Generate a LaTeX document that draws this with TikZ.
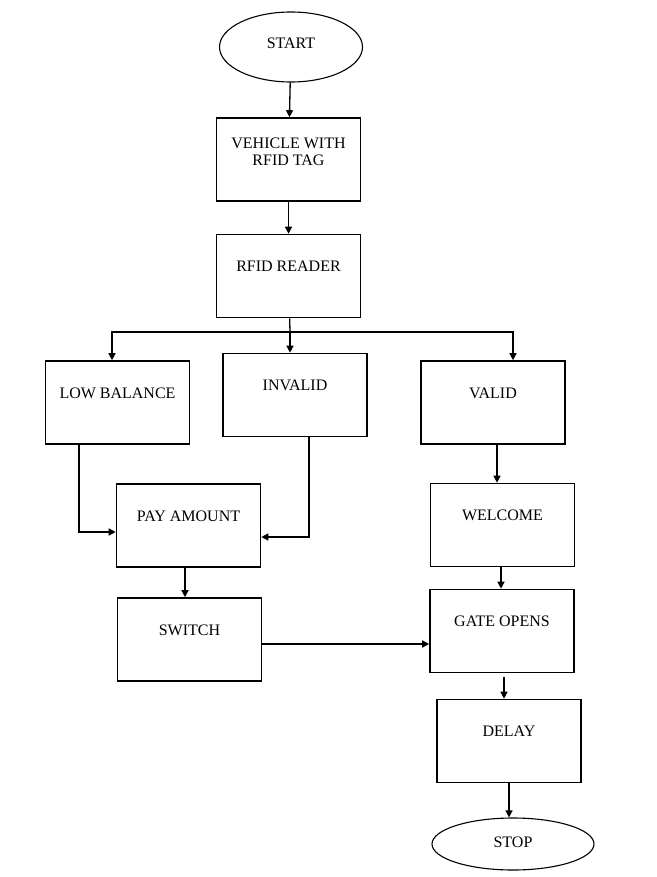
\documentclass[tikz,border=0pt]{standalone}
\usepackage{fontspec}
\setmainfont{Liberation Serif}
\usetikzlibrary{arrows.meta,shapes.geometric}

\begin{document}
\begin{tikzpicture}[x=1pt,y=-1pt,
    stepbox/.style={draw,line width=1.6pt,rectangle,inner sep=0pt,
        minimum width=144pt,minimum height=83pt,text height=37pt,text depth=46pt,
        font=\fontsize{16}{17}\selectfont},
    endpoint/.style={draw,line width=1.1pt,ellipse,inner sep=0pt,
        font=\fontsize{16}{17}\selectfont},
    arr/.style={line width=1.3pt,-{Triangle[length=7pt,width=7pt]}}]
\useasboundingbox (0,0) rectangle (656,877);

% the terminals
\node (start) at (291,47) [endpoint,minimum width=143pt,minimum height=70pt,
    text height=8pt,text depth=5pt] {START};
\node (stop) at (513,844) [endpoint,minimum width=162pt,minimum height=52pt,
    text height=9pt,text depth=2pt] {STOP};

% the boxes
\node (vehicle) at (288.5,159.5) [stepbox,align=center,text height=48pt,text depth=35pt]
    {VEHICLE WITH\\RFID TAG};
\node (reader) at (288.5,276) [stepbox] {RFID READER};
\node (low) at (117.5,402.5) [stepbox] {LOW BALANCE};
\node (invalid) at (295,395) [stepbox] {INVALID};
\node (valid) at (493,402.5) [stepbox] {VALID};
\node (pay) at (188.5,525.5) [stepbox] {PAY AMOUNT};
\node (welcome) at (502.5,525) [stepbox] {WELCOME};
\node (switch) at (189.5,639.5) [stepbox] {SWITCH};
\node (gate) at (502,631) [stepbox] {GATE OPENS};
\node (delay) at (509,741) [stepbox] {DELAY};

% the split under the reader
\coordinate (split) at (290,332);

% the flow
\path (start) edge[arr] (vehicle)
      (vehicle) edge[arr] (reader);
\draw[line width=1.3pt] (reader) -- (split);
\draw[arr] (split) -| ([xshift=-5.5pt]low.north);
\draw[arr] (split) -- (split |- invalid.north);
\draw[arr] (split) -| ([xshift=20pt]valid.north);

\draw[arr] ([xshift=-38.5pt]low.south) |- ([yshift=-6.5pt]pay.west);
\draw[arr] ([xshift=14pt]invalid.south) |- ([yshift=-11.5pt]pay.east);
\draw[arr] ([xshift=4pt]valid.south) -- ([xshift=4pt]valid.south |- welcome.north);
\draw[arr] ([xshift=-3.5pt]pay.south) -- ([xshift=-3.5pt]pay.south |- switch.north);
\draw[arr] ([xshift=-1.5pt]welcome.south) -- ([xshift=-1.5pt]welcome.south |- gate.north);
\draw[arr] ([yshift=-4.5pt]switch.east) -- ([yshift=-4.5pt]switch.east -| gate.west);
\draw[arr] ([xshift=2pt,yshift=-4pt]gate.south) -- ([xshift=2pt]gate.south |- delay.north);
\draw[arr] (delay.south) -- (delay.south |- stop.north);
\end{tikzpicture}
\end{document}
